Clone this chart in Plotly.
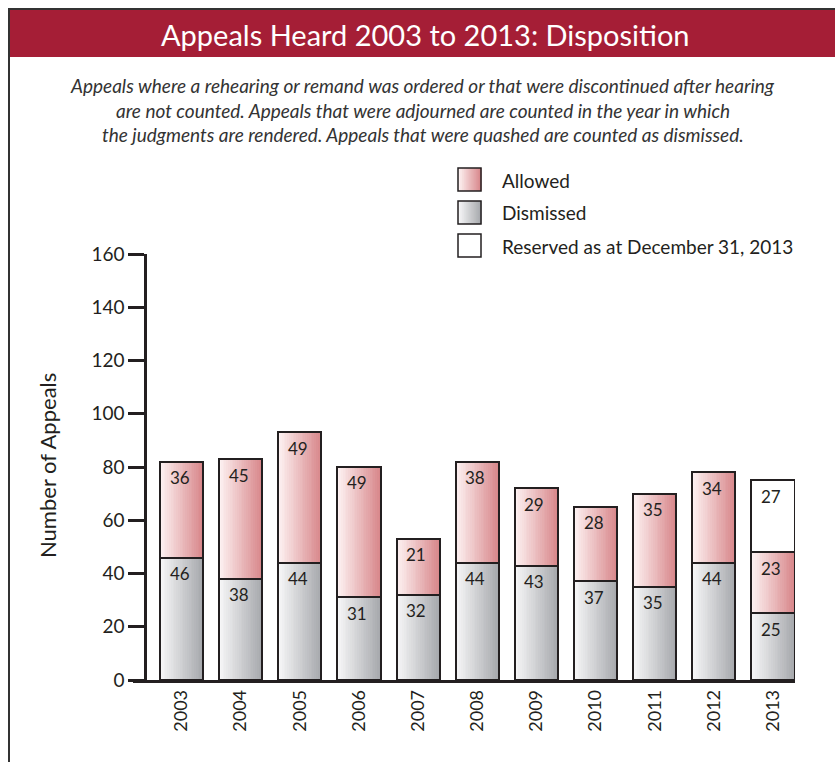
import plotly.graph_objects as go

# ---- data ----
years = ["2003", "2004", "2005", "2006", "2007", "2008", "2009", "2010", "2011", "2012", "2013"]
dismissed = [46, 38, 44, 31, 32, 44, 43, 37, 35, 44, 25]
allowed = [36, 45, 49, 49, 21, 38, 29, 28, 35, 34, 23]
reserved = [0, 0, 0, 0, 0, 0, 0, 0, 0, 0, 27]
y_ticks = [0, 20, 40, 60, 80, 100, 120, 140, 160]

W_PX, H_PX = 835, 762
FONT = "Lato"
DARK = "#231f20"


def px_x(p):
    return p / W_PX


def px_y(p):
    return 1 - p / H_PX


def interp(c0, c1, t):
    a = [int(c0[i:i + 2], 16) for i in (1, 3, 5)]
    b = [int(c1[i:i + 2], 16) for i in (1, 3, 5)]
    return "rgb(%d,%d,%d)" % tuple(round(a[j] + (b[j] - a[j]) * t) for j in range(3))


xpos = list(range(len(years)))
BW = 0.73
NS = 24

fig = go.Figure()

series = [
    ("Dismissed", dismissed, [0] * len(years), "#f6f6f7", "#a7a9ad"),
    ("Allowed", allowed, dismissed, "#fdf1f1", "#d8878b"),
    ("Reserved", reserved, [d + a for d, a in zip(dismissed, allowed)], "#ffffff", "#ffffff"),
]

for name, vals, base, c0, c1 in series:
    idx = [i for i, v in enumerate(vals) if v > 0]
    xs = [xpos[i] for i in idx]
    ys = [vals[i] for i in idx]
    bs = [base[i] for i in idx]
    for k in range(NS):
        t = k / (NS - 1)
        fig.add_trace(go.Bar(
            x=xs, y=ys, base=bs, width=BW / NS * 1.35, offset=-BW / 2 + k * BW / NS,
            marker=dict(color=interp(c0, c1, t), line=dict(width=0)),
            showlegend=False, hoverinfo="skip"))
    fig.add_trace(go.Bar(
        x=xs, y=ys, base=bs, width=BW, offset=-BW / 2, name=name,
        marker=dict(color="rgba(0,0,0,0)", line=dict(color=DARK, width=2)),
        showlegend=False))

annotations = []
# value labels
for name, vals, base, c0, c1 in series:
    for i, v in enumerate(vals):
        if v > 0:
            annotations.append(dict(
                x=xpos[i], y=base[i] + v, xref="x", yref="y", text=str(v),
                showarrow=False, yanchor="middle", yshift=-16, xshift=-2,
                font=dict(family=FONT, size=17, color=DARK)))

# title bar text
annotations.append(dict(
    x=px_x(425), y=px_y(35), xref="paper", yref="paper",
    text="Appeals Heard 2003 to 2013: Disposition", showarrow=False,
    font=dict(family=FONT, size=29, color="white"), xanchor="center", yanchor="middle"))

sub = ["Appeals where a rehearing or remand was ordered or that were discontinued after hearing",
       "are not counted. Appeals that were adjourned are counted in the year in which",
       "the judgments are rendered. Appeals that were quashed are counted as dismissed."]
for j, line in enumerate(sub):
    annotations.append(dict(
        x=px_x(423), y=px_y(86 + 24 * j), xref="paper", yref="paper",
        text="<i>" + line + "</i>", showarrow=False,
        font=dict(family=FONT, size=19, color="#333333"), xanchor="center", yanchor="middle"))

# y axis title
annotations.append(dict(
    x=px_x(48), y=px_y(466), xref="paper", yref="paper", text="Number of Appeals",
    showarrow=False, textangle=-90, font=dict(family=FONT, size=22, color=DARK),
    xanchor="center", yanchor="middle"))

shapes = [
    dict(type="rect", xref="paper", yref="paper", x0=px_x(9), x1=1, y0=px_y(57), y1=px_y(9),
         fillcolor="#a51e36", line=dict(width=0), layer="below"),
    dict(type="line", xref="paper", yref="paper", x0=px_x(8), x1=1, y0=px_y(9), y1=px_y(9),
         line=dict(color="#333333", width=2)),
    dict(type="line", xref="paper", yref="paper", x0=px_x(9), x1=px_x(9), y0=px_y(8), y1=0,
         line=dict(color="#333333", width=2)),
]

# legend
legend_items = [("Allowed", "#fdf1f1", "#d8878b"),
                ("Dismissed", "#f6f6f7", "#a7a9ad"),
                ("Reserved as at December 31, 2013", "#ffffff", "#ffffff")]
for j, (lab, c0, c1) in enumerate(legend_items):
    top = 168 + 33 * j
    x0, x1 = 458, 481
    n = 12
    for k in range(n):
        t = k / (n - 1)
        shapes.append(dict(type="rect", xref="paper", yref="paper",
                           x0=px_x(x0 + (x1 - x0) * k / n), x1=px_x(x0 + (x1 - x0) * (k + 1.3) / n),
                           y0=px_y(top + 23), y1=px_y(top), fillcolor=interp(c0, c1, t),
                           line=dict(width=0)))
    shapes.append(dict(type="rect", xref="paper", yref="paper", x0=px_x(x0), x1=px_x(x1),
                       y0=px_y(top + 23), y1=px_y(top), line=dict(color=DARK, width=1.5)))
    annotations.append(dict(x=px_x(500), y=px_y(top + 12), xref="paper", yref="paper",
                            text=lab, showarrow=False, xanchor="left", yanchor="middle",
                            font=dict(family=FONT, size=19, color=DARK)))

fig.update_layout(
    width=W_PX, height=H_PX, autosize=False,
    margin=dict(l=0, r=0, t=0, b=0, pad=0),
    paper_bgcolor="white", plot_bgcolor="rgba(0,0,0,0)",
    barmode="overlay", bargap=0,
    showlegend=False,
    xaxis=dict(domain=[px_x(133), px_x(795)], range=[-0.82, 10.372],
               tickmode="array", tickvals=xpos, ticktext=years, tickangle=-90,
               showline=True, linecolor=DARK, linewidth=2.5, ticks="",
               showgrid=False, zeroline=False, automargin=False,
               tickfont=dict(family=FONT, size=18, color=DARK)),
    yaxis=dict(domain=[px_y(680), px_y(254)], range=[0, 160], anchor="free", position=px_x(145),
               tickmode="array", tickvals=y_ticks,
               showline=True, linecolor=DARK, linewidth=2.5, ticks="outside", ticklen=16,
               tickwidth=2.5, tickcolor=DARK, showgrid=False, zeroline=False, automargin=False,
               tickfont=dict(family=FONT, size=19, color=DARK)),
    annotations=annotations, shapes=shapes,
)

fig.write_html("out.html", config={"displayModeBar": False},
               post_script="document.body.style.margin='0';document.body.style.padding='0';")
